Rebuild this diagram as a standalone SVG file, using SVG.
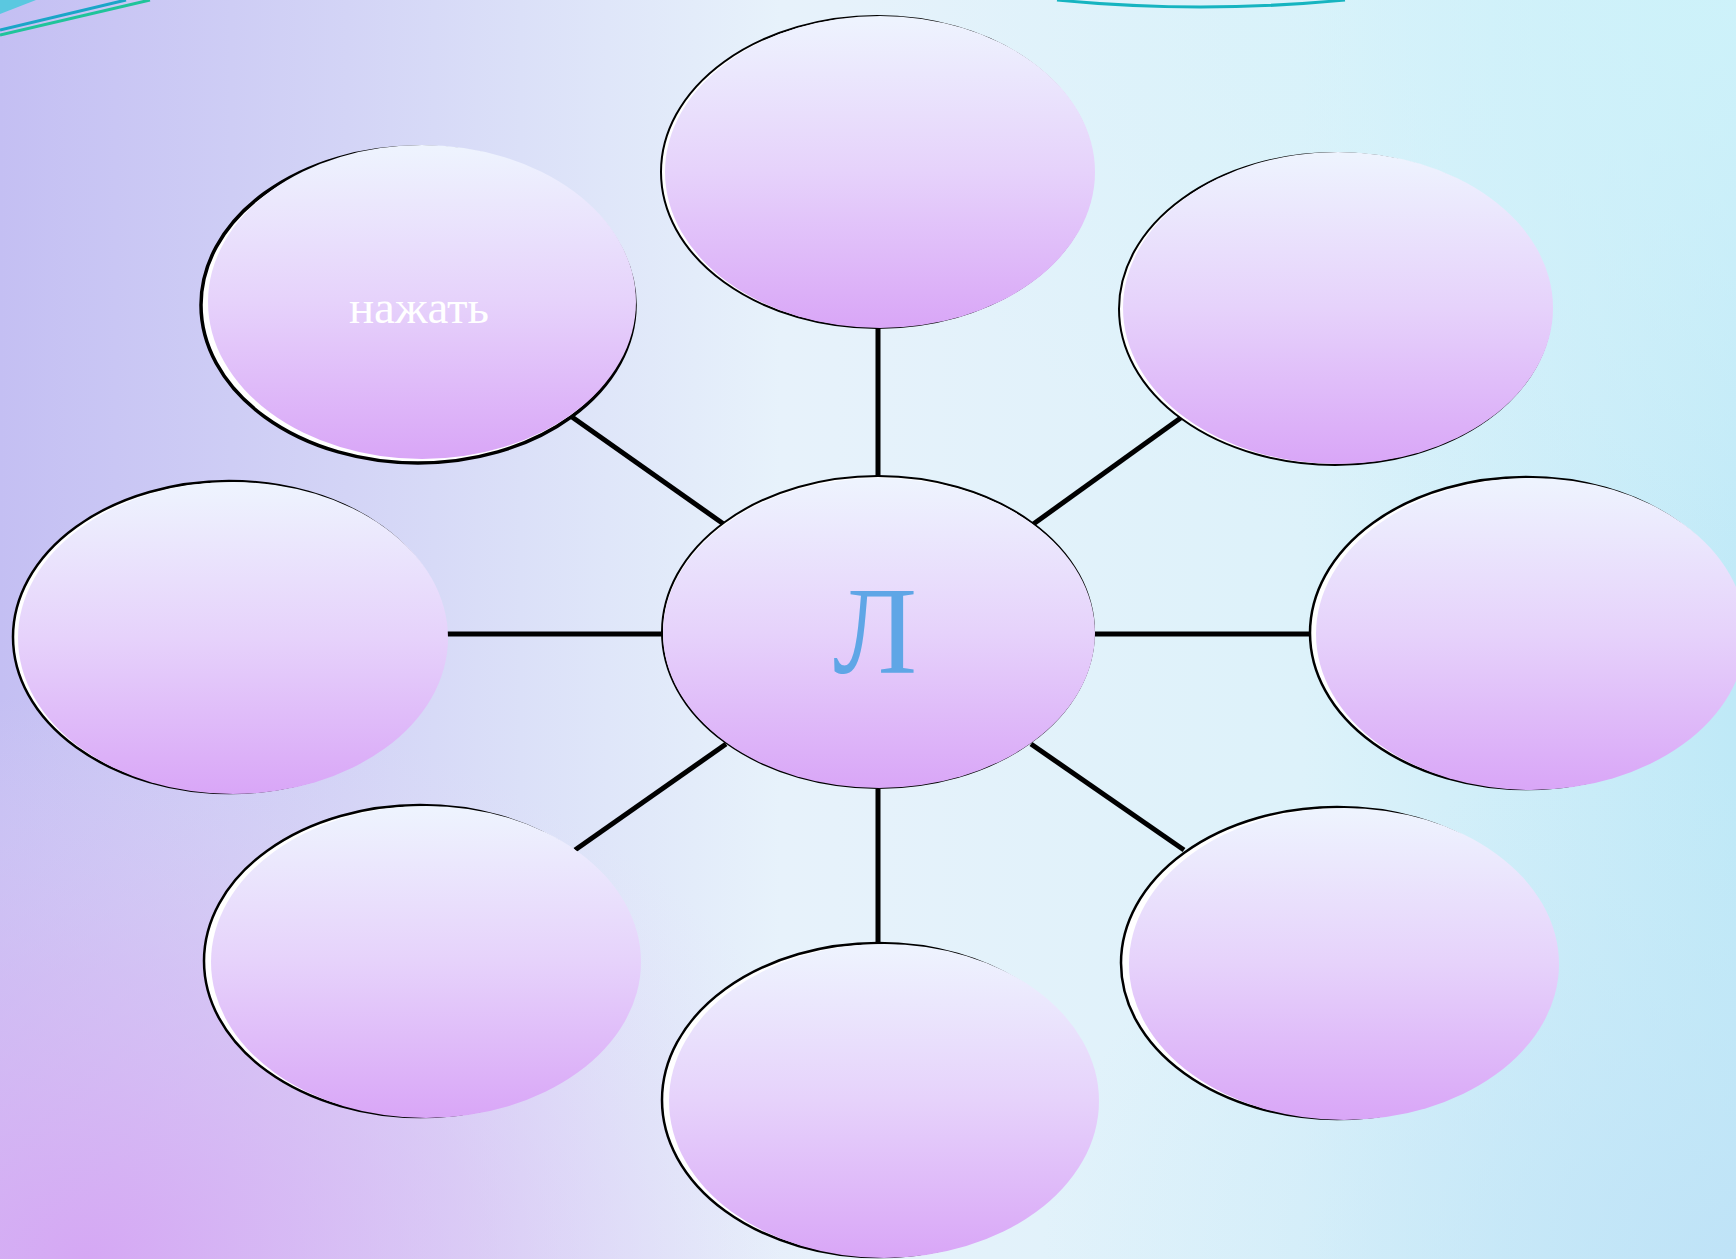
<svg xmlns="http://www.w3.org/2000/svg" width="1736" height="1259" viewBox="0 0 1736 1259">
<defs>
<linearGradient id="bg" x1="0" y1="0" x2="1" y2="0">
<stop offset="0" stop-color="#c4bff3"/>
<stop offset="0.2" stop-color="#d3d4f6"/>
<stop offset="0.45" stop-color="#e7f2fb"/>
<stop offset="0.75" stop-color="#ddf2fa"/>
<stop offset="1" stop-color="#bfe9f7"/>
</linearGradient>
<radialGradient id="bgBL" cx="0.05" cy="1" r="0.45">
<stop offset="0" stop-color="#d6a6f4" stop-opacity="0.95"/>
<stop offset="0.5" stop-color="#dcbaf4" stop-opacity="0.5"/>
<stop offset="1" stop-color="#e6dcf8" stop-opacity="0"/>
</radialGradient>
<radialGradient id="bgTR" cx="1" cy="0" r="0.5">
<stop offset="0" stop-color="#cff3fa" stop-opacity="0.9"/>
<stop offset="1" stop-color="#d8f2fb" stop-opacity="0"/>
</radialGradient>
<radialGradient id="bgBR" cx="1" cy="1" r="0.4">
<stop offset="0" stop-color="#bfe2f7" stop-opacity="0.9"/>
<stop offset="1" stop-color="#c8e8f8" stop-opacity="0"/>
</radialGradient>
<linearGradient id="node" x1="0" y1="0" x2="0" y2="1">
<stop offset="0" stop-color="#eef4fe"/>
<stop offset="0.5" stop-color="#e6d2fb"/>
<stop offset="1" stop-color="#d9a6f7"/>
</linearGradient>
</defs>
<style>
.shadow{fill:#ffffff;stroke:#000000;stroke-width:2.5}
.face{fill:url(#node)}
.conn{stroke:#000000;stroke-width:5;fill:none}
.lbl{font-family:"Liberation Serif","DejaVu Serif",serif;text-anchor:middle}
</style>
<rect width="1736" height="1259" fill="url(#bg)"/>
<rect width="1736" height="1259" fill="url(#bgBL)"/>
<rect width="1736" height="1259" fill="url(#bgTR)"/>
<rect width="1736" height="1259" fill="url(#bgBR)"/>
<g id="decor">
<path d="M0 0 L36 0 L0 14 Z" fill="#5ac8e0"/>
<path d="M0 30 L126 0" stroke="#1aa6c8" stroke-width="3" fill="none"/>
<path d="M0 35 L150 0" stroke="#1fc49a" stroke-width="3" fill="none"/>
<path d="M1057 0 Q1200 14 1345 0" stroke="#16b4c0" stroke-width="3" fill="none"/>
</g>
<g id="connectors">
<line class="conn" x1="878" y1="328" x2="878" y2="477"/>
<line class="conn" x1="572" y1="417" x2="725" y2="525"/>
<line class="conn" x1="1182" y1="417" x2="1032" y2="525"/>
<line class="conn" x1="445" y1="634" x2="663" y2="634"/>
<line class="conn" x1="1093" y1="634" x2="1311" y2="634"/>
<line class="conn" x1="726" y1="744" x2="575" y2="850"/>
<line class="conn" x1="1031" y1="744" x2="1184" y2="850"/>
<line class="conn" x1="878" y1="789" x2="878" y2="943"/>
</g>
<g id="node-top">
<ellipse class="shadow" cx="877" cy="172" rx="216" ry="156" style="stroke-width:2"/>
<ellipse class="face" cx="880" cy="172" rx="215" ry="156"/>
</g>
<g id="node-topleft">
<ellipse class="shadow" cx="418" cy="305" rx="217" ry="158" style="stroke-width:3.5"/>
<ellipse class="face" cx="422" cy="302" rx="214" ry="157"/>
</g>
<g id="node-topright">
<ellipse class="shadow" cx="1335" cy="309" rx="216" ry="156" style="stroke-width:2"/>
<ellipse class="face" cx="1338" cy="308" rx="215" ry="156"/>
</g>
<g id="node-left">
<ellipse class="shadow" cx="229" cy="637" rx="216" ry="156"/>
<ellipse class="face" cx="233" cy="638" rx="215" ry="156"/>
</g>
<g id="node-center">
<ellipse class="shadow" cx="878" cy="632" rx="216" ry="156" style="stroke-width:2"/>
<ellipse class="face" cx="879" cy="633" rx="216" ry="155"/>
<text class="lbl" x="875" y="673" font-size="124" fill="#5fa6e6">Л</text>
</g>
<g id="node-right">
<ellipse class="shadow" cx="1526" cy="633" rx="216" ry="156"/>
<ellipse class="face" cx="1531" cy="634" rx="215" ry="156"/>
</g>
<g id="node-bottomleft">
<ellipse class="shadow" cx="420" cy="961" rx="216" ry="156"/>
<ellipse class="face" cx="426" cy="962" rx="215" ry="156"/>
</g>
<g id="node-bottomright">
<ellipse class="shadow" cx="1337" cy="963" rx="216" ry="156"/>
<ellipse class="face" cx="1344" cy="964" rx="215" ry="156"/>
</g>
<g id="node-bottom">
<ellipse class="shadow" cx="878" cy="1100" rx="216" ry="157"/>
<ellipse class="face" cx="884" cy="1101" rx="215" ry="157"/>
</g>
<text class="lbl" x="419" y="323" font-size="47" fill="#ffffff">нажать</text>
</svg>
